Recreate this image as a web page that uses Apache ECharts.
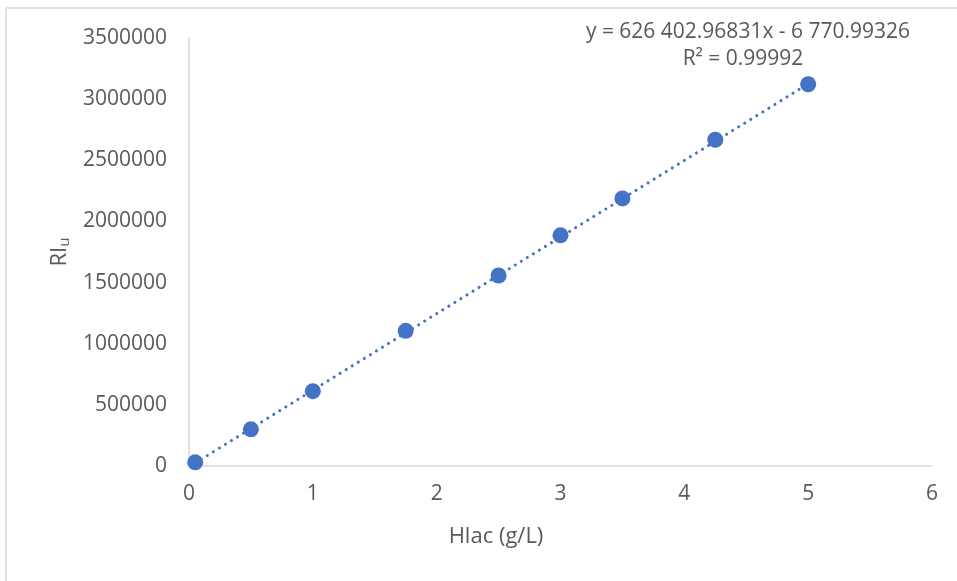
<!DOCTYPE html>
<html>
<head>
<meta charset="utf-8">
<script src="https://cdn.jsdelivr.net/npm/echarts@6/dist/echarts.min.js"></script>
<style>
html,body{margin:0;padding:0;background:#fff;}
#chart{width:957px;height:581px;}
</style>
</head>
<body>
<div id="chart"></div>
<script>
// Data
const hlac = [0.05, 0.5, 1, 1.75, 2.5, 3, 3.5, 4.25, 5];
const riu = [30000, 300000, 612000, 1105000, 1558000, 1886000, 2188000, 2668000, 3122000];
// Linear trendline endpoints (from the equation shown on the chart)
const trendX = [0.05, 5];
const trendY = [24550, 3125240];
const xTicks = [0, 1, 2, 3, 4, 5, 6];
const yTicks = [0, 500000, 1000000, 1500000, 2000000, 2500000, 3000000, 3500000];
const equationText = 'y = 626 402.96831x - 6 770.99326';
const r2Text = 'R² = 0.99992';
const xTitle = 'Hlac (g/L)';

const FONT = '"Open Sans", "Noto Sans", sans-serif';
const TXT = '#595959';
const AX = '#d9d9d9';

const chart = echarts.init(document.getElementById('chart'), null, {renderer: 'canvas'});
chart.setOption({
  animation: false,
  backgroundColor: '#fff',
  grid: {left: 189, right: 25, top: 38, bottom: 115},
  xAxis: {
    type: 'value',
    min: xTicks[0], max: xTicks[xTicks.length - 1], interval: 1,
    axisLine: {show: true, lineStyle: {color: AX, width: 1.5}},
    axisTick: {show: false},
    splitLine: {show: false},
    axisLabel: {color: TXT, fontFamily: FONT, fontSize: 21, margin: 18}
  },
  yAxis: {
    type: 'value',
    min: yTicks[0], max: yTicks[yTicks.length - 1], interval: 500000,
    axisLine: {show: true, lineStyle: {color: AX, width: 1.5}},
    axisTick: {show: false},
    splitLine: {show: false},
    axisLabel: {color: TXT, fontFamily: FONT, fontSize: 21, margin: 22, formatter: v => String(v)},
    name: '{a|RI}{b|u}',
    nameLocation: 'middle',
    nameGap: 114,
    nameRotate: 90,
    nameTextStyle: {
      rich: {
        a: {color: TXT, fontFamily: FONT, fontSize: 22},
        b: {color: TXT, fontFamily: FONT, fontSize: 15, padding: [10, 0, 0, 0]}
      }
    }
  },
  graphic: [
    {type: 'line', shape: {x1: 6, y1: 8, x2: 957, y2: 8}, style: {stroke: AX, lineWidth: 1.5}, silent: true},
    {type: 'line', shape: {x1: 6, y1: 8, x2: 6, y2: 581}, style: {stroke: AX, lineWidth: 1.5}, silent: true},
    {type: 'text', x: 496, y: 537, style: {text: xTitle, fill: TXT, font: '22px ' + FONT, align: 'center', verticalAlign: 'middle'}},
    {type: 'text', x: 748, y: 32, style: {text: equationText, fill: TXT, font: '21px ' + FONT, align: 'center', verticalAlign: 'middle'}},
    {type: 'text', x: 743, y: 59, style: {text: r2Text, fill: TXT, font: '21px ' + FONT, align: 'center', verticalAlign: 'middle'}}
  ],
  series: [
    {
      type: 'line',
      data: trendX.map((x, i) => [x, trendY[i]]),
      symbol: 'none',
      lineStyle: {color: '#4472C4', width: 3, type: [0.1, 7], cap: 'round'},
      z: 1
    },
    {
      type: 'scatter',
      data: hlac.map((x, i) => [x, riu[i]]),
      symbol: 'circle',
      symbolSize: 16,
      itemStyle: {color: '#4472C4', opacity: 1},
      z: 2
    }
  ]
});
</script>
</body>
</html>
